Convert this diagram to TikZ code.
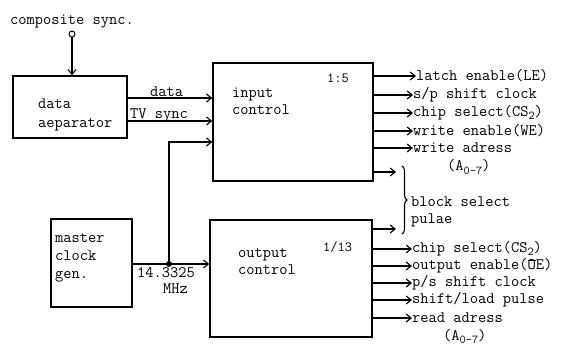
\documentclass[tikz,border=0pt]{standalone}
\usepackage{fontspec}
\usetikzlibrary{arrows.meta,decorations.pathreplacing}
\newcommand\twf[2]{\fontsize{#1}{#2}\ttfamily\addfontfeatures{LetterSpace=8}}
\newcommand\lowsub[1]{\raisebox{-0.2em}{\fontsize{12}{12}\ttfamily\addfontfeatures{LetterSpace=6}#1}}
\newcommand\barO{\makebox[0pt][l]{\raisebox{9.2pt}{\rule{8pt}{0.5pt}}}O}
\begin{document}
\begin{tikzpicture}[x=1pt,y=-1pt,
  blk/.style={draw,line width=1.3pt,inner sep=0pt,anchor=center},
  lbl/.style={inner sep=0pt,anchor=west,font=\twf{16}{18}},
  conn/.style={line width=1.1pt},
  arr/.style={conn,-{Straight Barb[length=5pt,width=8pt,line width=1.1pt]}},
]
\useasboundingbox (0,0) rectangle (579,345);

% boxes
\node[blk,minimum width=114pt,minimum height=62pt] (sep) at (70,107) {};
\node[blk,minimum width=160pt,minimum height=118pt] (inp) at (293,122) {};
\node[blk,minimum width=162pt,minimum height=117pt] (out) at (291,278.5) {};
\node[blk,minimum width=81pt,minimum height=88pt] (clk) at (91.5,263) {};

% box texts
\node[lbl,align=left,font=\twf{16}{19}] (septx) at (38,114.5) {data\\aeparator};
\node[lbl,align=left,font=\twf{16}{17}] (inptx) at (232,101.5) {input\\control};
\node[lbl,align=left,font=\twf{16}{17}] (outtx) at (238,261.5) {output\\control};
\node[lbl,align=left,font=\twf{16}{18}] (clktx) at (55,258) {master\\clock\\gen.};
\node[lbl,font=\twf{14}{14}] (r1) at (327,78) {1:5};
\node[lbl,font=\twf{14}{14}] (r2) at (323,247) {1/13};

% composite sync
\node[lbl] (cstx) at (10,22) {composite sync.};
\node[circle,draw,line width=1pt,inner sep=0pt,minimum size=6pt] (cs) at (72,34) {};
\draw[arr] (cs) -- (cs |- sep.north);

% data / TV sync
\coordinate (yd) at (0,98);
\coordinate (yt) at (0,121);
\draw[arr] (sep.east |- yd) -- (inp.west |- yd);
\draw[arr] (sep.east |- yt) -- (inp.west |- yt);
\node[lbl] (dtx) at (150,92) {data};
\node[lbl] (tvtx) at (130,115) {TV sync};

% clock bus
\coordinate (dot) at (169,264);
\coordinate (j) at (169,142);
\draw[arr] (clk.east |- dot) -- (out.west |- dot);
\draw[arr] (dot) -- (j) -- (j -| inp.west);
\fill (dot) circle (3pt);
\node[lbl] (mhz1) at (137,273) {14.3325};
\node[lbl] (mhz2) at (163,289) {MHz};

% input control outputs
\node[lbl] (o1) at (416,76) {latch enable(LE)};
\node[lbl] (o2) at (413,95) {s/p shift clock};
\node[lbl] (o3) at (413,113) {chip select(CS\lowsub{2})};
\node[lbl] (o4) at (413,131) {write enable(WE)};
\node[lbl] (o5) at (413,148) {write adress};
\node[lbl] (o6) at (447,167) {(A\lowsub{0-7})};
\foreach \n in {o1,o2,o3,o4,o5}
  \draw[arr] (inp.east |- \n.west) -- (\n.west);

% block select
\coordinate (b1) at (396,172);
\coordinate (b2) at (396,229);
\draw[arr] (inp.east |- b1) -- (b1);
\draw[arr] (out.east |- b2) -- (b2);
\draw[line width=1.1pt,decorate,decoration={brace,amplitude=5pt}] (402,166) -- (402,234);
\node[lbl,align=left,font=\twf{16}{17}] (bs) at (411,211.5) {block select\\pulae};

% output control outputs
\node[lbl] (p1) at (412,249) {chip select(CS\lowsub{2})};
\node[lbl] (p2) at (412,266) {output enable(\barO E)};
\node[lbl] (p3) at (412,283) {p/s shift clock};
\node[lbl] (p4) at (412,300) {shift/load pulse};
\node[lbl] (p5) at (412,318) {read adress};
\node[lbl] (p6) at (443,336.5) {(A\lowsub{0-7})};
\foreach \n in {p1,p2,p3,p4,p5}
  \draw[arr] (out.east |- \n.west) -- (\n.west);
\end{tikzpicture}
\end{document}
